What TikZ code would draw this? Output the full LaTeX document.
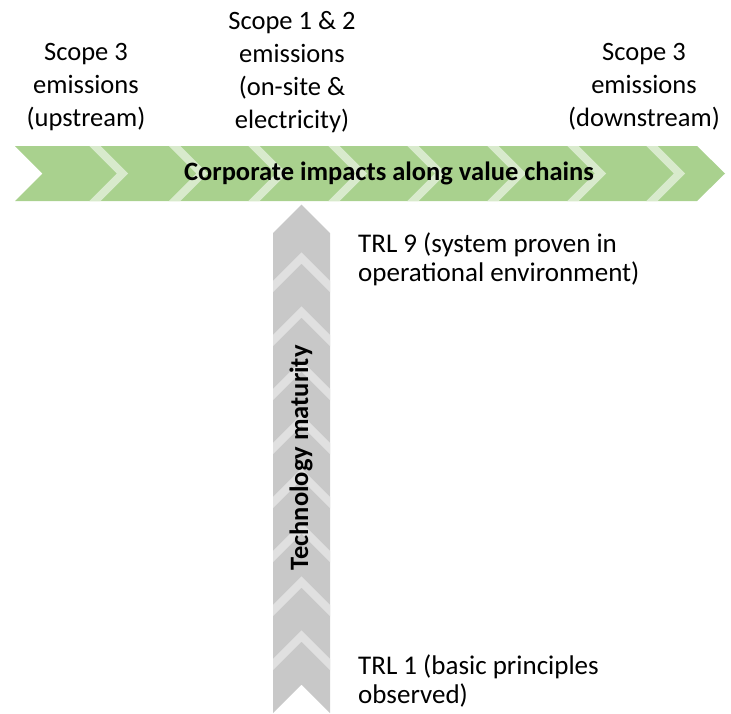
\documentclass[tikz,border=0pt]{standalone}
\usepackage{fontspec}
\setmainfont{Carlito}
\definecolor{arrowgreen}{RGB}{169,209,142}
\definecolor{bandgreen}{RGB}{216,234,204}
\definecolor{arrowgray}{RGB}{200,200,200}
\definecolor{bandgray}{RGB}{224,224,224}
\begin{document}
\begin{tikzpicture}[x=1pt,y=-1pt,
  lbl/.style={font=\fontsize{26.5}{33}\selectfont, align=center, inner sep=0pt},
  trl/.style={font=\fontsize{27}{28.5}\selectfont, align=left, inner sep=0pt},
  ttl/.style={font=\fontsize{26.5}{32}\selectfont\bfseries, inner sep=0pt},
  gband/.style={draw=bandgreen, line width=8pt, miter limit=10},
  yband/.style={draw=bandgray, line width=8pt, miter limit=10}]
\useasboundingbox (0,0) rectangle (731,713);
% horizontal arrow
\path[fill=arrowgreen] (15,146) -- (697,146) -- (725,173.5) -- (697,201) -- (15,201) -- (42.5,173.5) -- cycle;
\begin{scope}
\clip (15,146) -- (697,146) -- (725,173.5) -- (697,201) -- (15,201) -- (42.5,173.5) -- cycle;
\foreach \t in {83,162.6,242,322,401,481,561,640}{
  \draw[gband] (\t+6,140) -- (\t+6+33.5,173.5) -- (\t+6,207);
}
\end{scope}
% vertical arrow
\path[fill=arrowgray] (273,233) -- (301.5,204.5) -- (330,233) -- (330,713) -- (301.5,684.5) -- (273,713) -- cycle;
\begin{scope}
\clip (273,233) -- (301.5,204.5) -- (330,233) -- (330,713) -- (301.5,684.5) -- (273,713) -- cycle;
\foreach \t in {252,306,360,414,468,522,576,630}{
  \draw[yband] (267,\t+6+34.5) -- (301.5,\t+6) -- (336,\t+6+34.5);
}
\end{scope}
% titles
\node[ttl] (title) at (389,173) {Corporate impacts along value chains};
\node[ttl, rotate=90] (tech) at (301,458) {Technology maturity};
% top labels (base anchor = baseline of last line)
\node[lbl, anchor=base] (up) at (86,126) {Scope 3\\emissions\\(upstream)};
\node[lbl, anchor=base] (mid) at (292,128) {Scope 1 \& 2\\emissions\\(on-site \&\\electricity)};
\node[lbl, anchor=base] (down) at (644,126) {Scope 3\\emissions\\(downstream)};
% TRL labels
\node[trl, anchor=base west] (trl9) at (358,281) {TRL 9 (system proven in\\operational environment)};
\node[trl, anchor=base west] (trl1) at (358,703) {TRL 1 (basic principles\\observed)};
\end{tikzpicture}
\end{document}
